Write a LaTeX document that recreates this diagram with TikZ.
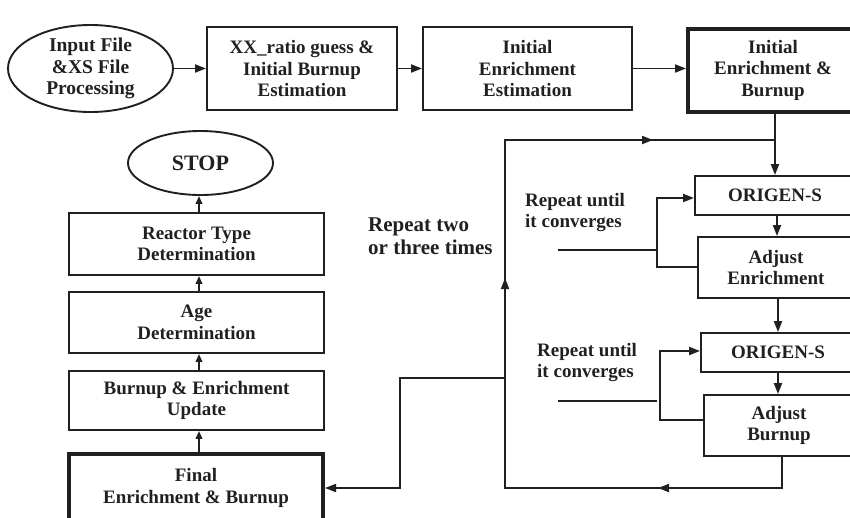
\documentclass[tikz,border=0pt]{standalone}
\usepackage{fontspec}
\setmainfont{Liberation Serif}
\usetikzlibrary{arrows.meta,shapes.geometric}
\definecolor{ink}{RGB}{35,31,32}
\begin{document}
\begin{tikzpicture}[x=1pt,y=-1pt,
  every node/.style={font=\fontsize{19}{21.5}\selectfont\bfseries, align=center, text=ink},
  box/.style={draw=ink, line width=1.9pt, rectangle, inner sep=0pt},
  thickbox/.style={draw=ink, line width=4pt, rectangle, inner sep=0pt},
  oval/.style={draw=ink, line width=1.9pt, ellipse, inner sep=0pt},
  conn/.style={draw=ink, line width=1.9pt},
  arr/.style={conn, -{Triangle[length=11pt,width=8pt]}},
  sarr/.style={conn, -{Triangle[length=8pt,width=6.5pt]}},
  lbl/.style={align=left, inner sep=0pt, anchor=west}
]
\useasboundingbox (0,0) rectangle (850,517);
\clip (0,0) rectangle (850,517);

% top row
\node[oval, minimum width=165, minimum height=87, font=\fontsize{19.5}{21.5}\selectfont\bfseries] (inp) at (90.5,68.5) {Input File\\\&XS File\\Processing};
\node[box, minimum width=190, minimum height=83] (xx) at (302,68.5) {XX\_ratio guess \&\\Initial Burnup\\Estimation};
\node[box, minimum width=209, minimum height=83] (ie) at (527.5,68.5) {Initial\\Enrichment\\Estimation};
\node[thickbox, minimum width=170, minimum height=83] (ieb) at (773,70) {Initial\\Enrichment \&\\Burnup};

\draw[arr] (inp) -- (xx);
\draw[arr] (xx) -- (ie);
\draw[arr] (ie.east) -- (ie.east -| ieb.west);

% right column
\node[box, minimum width=160, minimum height=39] (o1) at (775,195.5) {ORIGEN-S};
\node[box, minimum width=156, minimum height=61] (ae) at (776,267.5) {Adjust\\Enrichment};
\node[box, minimum width=154, minimum height=39] (o2) at (778,352.5) {ORIGEN-S};
\node[box, minimum width=150, minimum height=61] (ab) at (779,425.5) {Adjust\\Burnup};

\coordinate (j1) at (775,140);
\coordinate (xa) at (777,0);
\coordinate (xb) at (778,0);
\coordinate (xc) at (782,0);
\draw[arr] (ieb.south -| j1) -- (o1.north -| j1);
\draw[arr] (o1.south -| xa) -- (ae.north -| xa);
\draw[arr] (ae.south -| xb) -- (o2.north -| xb);
\draw[arr] (o2.south -| xb) -- (ab.north -| xb);

% inner loops
\coordinate (lp1) at (657,0);
\coordinate (lp2) at (660,0);
\draw[arr] ([yshift=0.5pt]ae.west) -- ([yshift=0.5pt]ae.west -| lp1) |- ([yshift=-2.5pt]o1.west);
\draw[arr] ([yshift=5.5pt]ab.west) -- ([yshift=5.5pt]ab.west -| lp2) |- ([yshift=1.5pt]o2.west);
\coordinate (f1a) at (558,250);
\coordinate (f1b) at (657,250);
\coordinate (f2a) at (558,401);
\coordinate (f2b) at (657,401);
\draw[conn] (f1a) -- (f1b);
\draw[conn] (f2a) -- (f2b);

\node[lbl] (ru1) at (525,212.5) {Repeat until\\it converges};
\node[lbl] (ru2) at (537,362.5) {Repeat until\\it converges};

% outer loop
\coordinate (lb) at (505,488);
\coordinate (lt) at (505,140);
\draw[conn] (ab.south -| xc) |- (lb) -- (lt) -- (j1);
\coordinate (a1s) at (672,488);
\coordinate (a1t) at (658,488);
\coordinate (a2s) at (505,294);
\coordinate (a2t) at (505,278);
\coordinate (a3s) at (638,140);
\coordinate (a3t) at (653,140);
\draw[arr] (a1s) -- (a1t);
\draw[arr] (a2s) -- (a2t);
\draw[arr] (a3s) -- (a3t);

\node[lbl, font=\fontsize{21}{23}\selectfont\bfseries] (rep) at (368,236.5) {Repeat two\\or three times};

% left column
\node[oval, minimum width=145, minimum height=64, font=\fontsize{22}{24}\selectfont\bfseries] (stop) at (200.5,163) {STOP};
\node[box, minimum width=255, minimum height=62] (rt) at (196.5,244) {Reactor Type\\Determination};
\node[box, minimum width=255, minimum height=61] (age) at (196.5,322.5) {Age\\Determination};
\node[box, minimum width=255, minimum height=59] (bu) at (196.5,400.5) {Burnup \& Enrichment\\Update};
\node[thickbox, minimum width=254, minimum height=68] (fin) at (196,488) {Final\\Enrichment \& Burnup};

\coordinate (xl) at (199,0);
\draw[sarr] (rt.north -| xl) -- (stop.south -| xl);
\draw[sarr] (age.north -| xl) -- (rt.south -| xl);
\draw[sarr] (bu.north -| xl) -- (age.south -| xl);
\draw[sarr] (fin.north -| xl) -- (bu.south -| xl);

\coordinate (k1) at (505,378);
\coordinate (k2) at (400,378);
\draw[arr] (k1) -- (k2) |- (fin.east);
\end{tikzpicture}
\end{document}
